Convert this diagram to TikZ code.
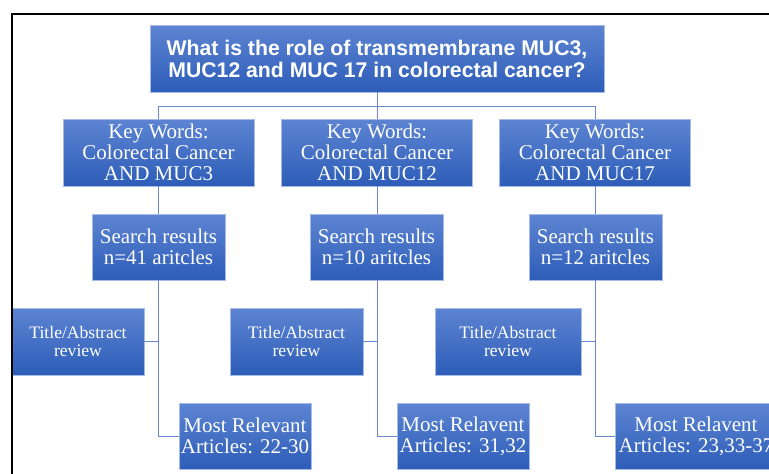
\documentclass[tikz,border=0pt]{standalone}
\usepackage{fontspec}
\setmainfont{Liberation Serif}
\setsansfont{Liberation Sans}
\definecolor{boxtop}{RGB}{93,132,210}
\definecolor{boxbot}{RGB}{45,93,184}
\definecolor{boxline}{RGB}{165,188,230}
\definecolor{connc}{RGB}{105,135,205}
\tikzset{
  box/.style={draw=boxline, line width=0.8pt, top color=boxtop, bottom color=boxbot,
    text=white, align=center, inner sep=0pt, font=\fontsize{21}{21}\selectfont},
  kwbox/.style={box, minimum width=191pt, minimum height=67pt},
  srbox/.style={box, minimum width=133pt, minimum height=66pt},
  tabox/.style={box, minimum height=67pt, font=\fontsize{17.6}{18}\selectfont},
  mrbox/.style={box, minimum height=66pt},
  connector/.style={draw=connc, line width=1pt}
}
\begin{document}
\begin{tikzpicture}[x=1pt,y=-1pt]
\useasboundingbox (0,0) rectangle (769,474);
\clip (0,0) rectangle (769,474);
% title
\node[box, minimum width=454pt, minimum height=67pt,
  font=\sffamily\bfseries\fontsize{21.2}{22}\selectfont] (q) at (377,58.5)
  {What is the role of transmembrane MUC3,\\MUC12 and MUC 17 in colorectal cancer?};
% key words
\node[kwbox] (k1) at (158.5,152.5) {Key Words:\\Colorectal Cancer\\AND MUC3};
\node[kwbox] (k2) at (377,152.5) {Key Words:\\Colorectal Cancer\\AND MUC12};
\node[kwbox] (k3) at (595,152.5) {Key Words:\\Colorectal Cancer\\AND MUC17};
% search results
\node[srbox] (s1) at (158.5,247) {Search results\\n=41 aritcles};
\node[srbox] (s2) at (376.5,247) {Search results\\n=10 aritcles};
\node[srbox] (s3) at (595.5,247) {Search results\\n=12 aritcles};
% title/abstract
\node[tabox, minimum width=132pt] (t1) at (78,341.5) {Title/Abstract\\review};
\node[tabox, minimum width=133pt] (t2) at (296.5,341.5) {Title/Abstract\\review};
\node[tabox, minimum width=146pt] (t3) at (508,341.5) {Title/Abstract\\review};
% most relevant
\node[mrbox, minimum width=132pt] (m1) at (245,436) {Most Relevant\\Articles: 22-30};
\node[mrbox, minimum width=132pt] (m2) at (463,436) {Most Relavent\\Articles: 31,32};
\node[mrbox, minimum width=162pt] (m3) at (696,436) {Most Relavent\\Articles: 23,33-37};
% connectors
\coordinate (hub) at (377,106);
\draw[connector] (q.south) -- (hub);
\draw[connector] (hub) -| (k1.north);
\draw[connector] (hub) -| (k3.north);
\draw[connector] (hub) -- (k2.north);
\draw[connector] (k1.south) -- (k1.south |- s1.north);
\draw[connector] (k2.south) -- (k2.south |- s2.north);
\draw[connector] (k3.south) -- (k3.south |- s3.north);
\draw[connector] (k1.south |- s1.south) |- (m1.west);
\draw[connector] (k2.south |- s2.south) |- (m2.west);
\draw[connector] (k3.south |- s3.south) |- (m3.west);
\draw[connector] (t1.east) -- (t1.east -| k1.south);
\draw[connector] (t2.east) -- (t2.east -| k2.south);
\draw[connector] (t3.east) -- (t3.east -| k3.south);
% frame
\draw[black, line width=1.5pt] (12,14) rectangle (800,500);
\end{tikzpicture}
\end{document}
